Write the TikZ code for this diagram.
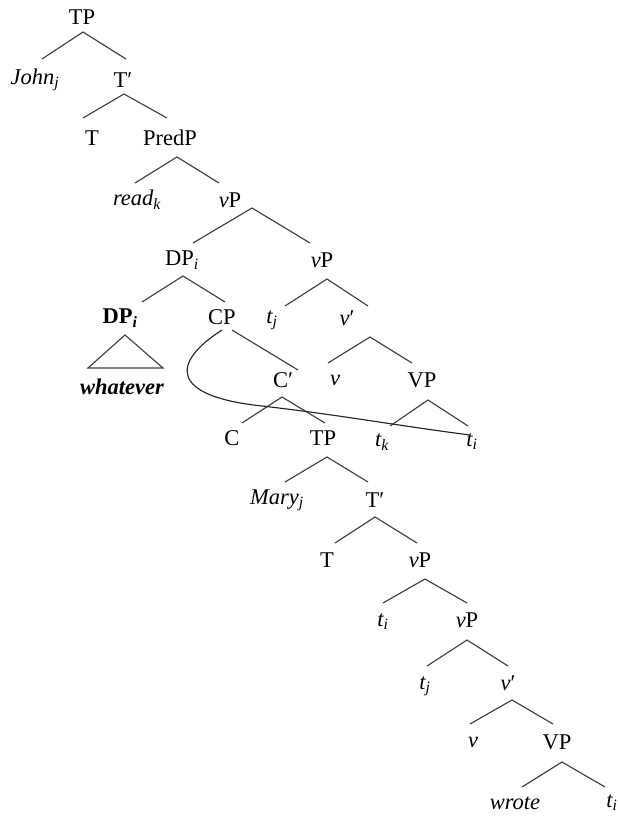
\documentclass[tikz,border=0pt]{standalone}
\usepackage{fontspec}
\setmainfont{Liberation Serif}
\newcommand\itx[1]{{\itshape #1}}
\newcommand\subx[1]{\textsubscript{\itshape #1}}
\begin{document}
\begin{tikzpicture}[x=1pt,y=-1pt,
  lab/.style={inner sep=0pt,font=\fontsize{22.5}{27}\selectfont},
  br/.style={line width=1.15pt,draw=black!75},
  mv/.style={line width=1.15pt,draw=black!85}]
\useasboundingbox (0,0) rectangle (618,817);
% nodes
\node[lab] (TPa) at (82,17) {TP};
\node[lab] (John) at (35,80) {\itx{John}\subx{j}};
\node[lab] (Tba) at (123,80) {T′};
\node[lab] (Ta) at (92,138) {T};
\node[lab] (PredP) at (170,138) {PredP};
\node[lab] (read) at (137,200) {\itx{read}\subx{k}};
\node[lab] (vPa) at (230,200) {\itx{v}P};
\node[lab] (DPa) at (182,260) {DP\subx{i}};
\node[lab] (vPb) at (322,260) {\itx{v}P};
\node[lab] (DPb) at (120,318) {\textbf{DP}\textsubscript{\bfseries\itshape i}};
\node[lab] (CP) at (222,317) {CP};
\node[lab] (tja) at (272,320) {\itx{t}\subx{j}};
\node[lab] (vba) at (347,318) {\itx{v}′};
\node[lab] (whatever) at (122,387) {\textbf{\itshape whatever}};
\node[lab] (Cb) at (283,380) {C′};
\node[lab] (va) at (335,380) {\itx{v}};
\node[lab] (VPa) at (422,380) {VP};
\node[lab] (C) at (232,438) {C};
\node[lab] (TPb) at (323,438) {TP};
\node[lab] (tk) at (382,442) {\itx{t}\subx{k}};
\node[lab] (tia) at (472,442) {\itx{t}\subx{i}};
\node[lab] (Mary) at (277,500) {\itx{Mary}\subx{j}};
\node[lab] (Tbb) at (375,500) {T′};
\node[lab] (Tb) at (327,560) {T};
\node[lab] (vPc) at (420,560) {\itx{v}P};
\node[lab] (tib) at (383,622) {\itx{t}\subx{i}};
\node[lab] (vPd) at (467,620) {\itx{v}P};
\node[lab] (tjb) at (425,686) {\itx{t}\subx{j}};
\node[lab] (vbb) at (508,683) {\itx{v}′};
\node[lab] (vb) at (473,742) {\itx{v}};
\node[lab] (VPb) at (557,742) {VP};
\node[lab] (wrote) at (515,803) {\itx{wrote}};
\node[lab] (tic) at (612,803) {\itx{t}\subx{i}};
% branch points
\coordinate (TPa-a) at (83,32);   \coordinate (John-t) at (42,59);  \coordinate (Tba-t) at (126,59);
\coordinate (Tba-a) at (124,94);  \coordinate (Ta-t) at (83,118);   \coordinate (PredP-t) at (167,118);
\coordinate (PredP-a) at (177,157); \coordinate (read-t) at (135,183); \coordinate (vPa-t) at (219,183);
\coordinate (vPa-a) at (252,208); \coordinate (DPa-t) at (193,243); \coordinate (vPb-t) at (310,243);
\coordinate (DPa-a) at (183,276); \coordinate (DPb-t) at (142,302); \coordinate (CP-t) at (225,302);
\coordinate (vPb-a) at (327,279); \coordinate (tja-t) at (285,306); \coordinate (vba-t) at (368,306);
\coordinate (DPb-a) at (125,335); \coordinate (tri-l) at (88,368); \coordinate (tri-r) at (163,368);
\coordinate (CP-a) at (232,330);  \coordinate (Cb-t) at (298,370);
\coordinate (vba-a) at (370,337); \coordinate (va-t) at (328,363); \coordinate (VPa-t) at (412,363);
\coordinate (Cb-a) at (282,397);  \coordinate (C-t) at (242,423);  \coordinate (TPb-t) at (325,423);
\coordinate (VPa-a) at (428,400); \coordinate (tk-t) at (390,426); \coordinate (tia-t) at (468,426);
\coordinate (TPb-a) at (327,457); \coordinate (Mary-t) at (285,482); \coordinate (Tbb-t) at (368,482);
\coordinate (Tbb-a) at (375,517); \coordinate (Tb-t) at (335,543); \coordinate (vPc-t) at (417,543);
\coordinate (vPc-a) at (425,579); \coordinate (tib-t) at (383,603); \coordinate (vPd-t) at (467,603);
\coordinate (vPd-a) at (467,640); \coordinate (tjb-t) at (427,666); \coordinate (vbb-t) at (508,666);
\coordinate (vbb-a) at (512,700); \coordinate (vb-t) at (470,724); \coordinate (VPb-t) at (553,724);
\coordinate (VPb-a) at (562,762); \coordinate (wrote-t) at (522,787); \coordinate (tic-t) at (605,787);
\coordinate (mv-s) at (222,330); \coordinate (mv-e) at (470,435);
% branches
\draw[br] (John-t) -- (TPa-a) -- (Tba-t);
\draw[br] (Ta-t) -- (Tba-a) -- (PredP-t);
\draw[br] (read-t) -- (PredP-a) -- (vPa-t);
\draw[br] (DPa-t) -- (vPa-a) -- (vPb-t);
\draw[br] (DPb-t) -- (DPa-a) -- (CP-t);
\draw[br] (tja-t) -- (vPb-a) -- (vba-t);
\draw[br] (tri-l) -- (DPb-a) -- (tri-r) -- cycle;
\draw[br] (CP-a) -- (Cb-t);
\draw[br] (va-t) -- (vba-a) -- (VPa-t);
\draw[br] (C-t) -- (Cb-a) -- (TPb-t);
\draw[br] (tk-t) -- (VPa-a) -- (tia-t);
\draw[br] (Mary-t) -- (TPb-a) -- (Tbb-t);
\draw[br] (Tb-t) -- (Tbb-a) -- (vPc-t);
\draw[br] (tib-t) -- (vPc-a) -- (vPd-t);
\draw[br] (tjb-t) -- (vPd-a) -- (vbb-t);
\draw[br] (vb-t) -- (vbb-a) -- (VPb-t);
\draw[br] (wrote-t) -- (VPb-a) -- (tic-t);
% movement curve
\draw[mv] (mv-s) .. controls (172,362) and (168,396) .. (262,406)
  .. controls (340,415) and (400,426) .. (mv-e);
\end{tikzpicture}
\end{document}
